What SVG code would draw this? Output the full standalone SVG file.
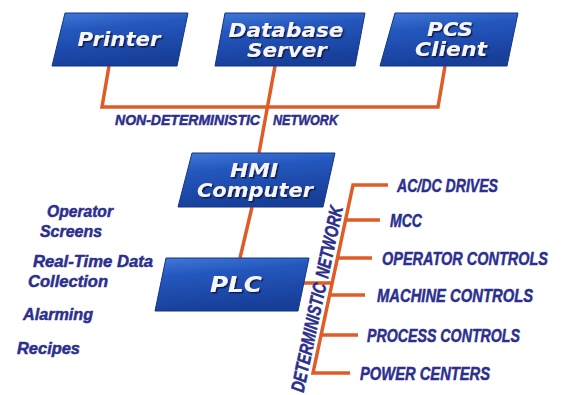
<svg xmlns="http://www.w3.org/2000/svg" width="563" height="395" viewBox="0 0 563 395">
<defs>
<linearGradient id="boxg" x1="0" y1="0" x2="0.25" y2="1">
<stop offset="0" stop-color="#4279d8"/>
<stop offset="0.35" stop-color="#2457bd"/>
<stop offset="1" stop-color="#173f9a"/>
</linearGradient>
<filter id="sh" x="-10%" y="-20%" width="130%" height="150%">
<feDropShadow dx="1.5" dy="1.5" stdDeviation="0.6" flood-color="#0b1440" flood-opacity="0.9"/>
</filter>
<style>
.box{fill:url(#boxg);stroke:#143583;stroke-width:1}
.bt{font-family:"DejaVu Sans",sans-serif;font-weight:bold;font-style:italic;font-size:19px;fill:#f5f5fa;text-anchor:middle;filter:url(#sh)}
.net{fill:none;stroke:#e05c26;stroke-width:3.5;stroke-linejoin:miter;stroke-linecap:butt}
.lbl{font-family:"Liberation Sans",sans-serif;font-weight:bold;font-style:italic;fill:#2b2f8e;stroke:#2b2f8e;stroke-width:0.5}
.r{font-size:19px}
.l{font-size:17px}
.n{font-size:15px}
</style>
</defs>
<rect width="563" height="395" fill="#ffffff"/>
<g id="connectors">
<path class="net" d="M109,66 L102,107 L438,107 L445,66"/>
<path class="net" d="M275,66 L259,153"/>
<path class="net" d="M252,207 L240,258"/>
<path class="net" d="M388,185 H353 L313,373 H350"/>
<path class="net" d="M345.6,220 H380 M337.7,258 H372 M329.9,295 H365 M321.5,335 H358 M298,283 H332.4"/>
</g>
<g id="printer">
<polygon class="box" points="65,13 188,13 177,66 52,66"/>
<text class="bt" x="119" y="46" textLength="83" lengthAdjust="spacingAndGlyphs">Printer</text>
</g>
<g id="database-server">
<polygon class="box" points="225,13 365,13 355,66 215,66"/>
<text class="bt" x="286" y="37" textLength="115" lengthAdjust="spacingAndGlyphs">Database</text>
<text class="bt" x="287" y="57" textLength="80" lengthAdjust="spacingAndGlyphs">Server</text>
</g>
<g id="pcs-client">
<polygon class="box" points="395,13 518,13 507,66 380,66"/>
<text class="bt" x="450" y="36" textLength="46" lengthAdjust="spacingAndGlyphs">PCS</text>
<text class="bt" x="451" y="56" textLength="72" lengthAdjust="spacingAndGlyphs">Client</text>
</g>
<g id="hmi-computer">
<polygon class="box" points="192,153 335,153 323,207 178,207"/>
<text class="bt" x="254" y="177" textLength="48" lengthAdjust="spacingAndGlyphs">HMI</text>
<text class="bt" x="255" y="197" textLength="116" lengthAdjust="spacingAndGlyphs">Computer</text>
</g>
<g id="plc">
<polygon class="box" points="166,258 309,258 298,311 155,311"/>
<text class="bt" x="236" y="292" style="font-size:21px" textLength="52" lengthAdjust="spacingAndGlyphs">PLC</text>
</g>
<g id="non-deterministic-network">
<text class="lbl n"><tspan x="115" y="125" textLength="145" lengthAdjust="spacingAndGlyphs">NON-DETERMINISTIC</tspan><tspan x="273" y="125" textLength="65" lengthAdjust="spacingAndGlyphs">NETWORK</tspan></text>
</g>
<g id="deterministic-network">
<text class="lbl r" transform="translate(303.5,393) rotate(-78) scale(0.76,1)" textLength="146" lengthAdjust="spacingAndGlyphs">DETERMINISTIC</text>
<text class="lbl r" transform="translate(328,279) rotate(-78) scale(0.76,1)" textLength="96" lengthAdjust="spacingAndGlyphs">NETWORK</text>
</g>
<g id="devices">
<text class="lbl r" transform="translate(397,192) scale(0.76,1)" textLength="132.9" lengthAdjust="spacingAndGlyphs">AC/DC DRIVES</text>
<text class="lbl r" transform="translate(390,227) scale(0.76,1)" textLength="42.1" lengthAdjust="spacingAndGlyphs">MCC</text>
<text class="lbl r" transform="translate(382,265) scale(0.76,1)" textLength="218.4" lengthAdjust="spacingAndGlyphs">OPERATOR CONTROLS</text>
<text class="lbl r" transform="translate(377,302) scale(0.76,1)" textLength="205.3" lengthAdjust="spacingAndGlyphs">MACHINE CONTROLS</text>
<text class="lbl r" transform="translate(367,342) scale(0.76,1)" textLength="201.3" lengthAdjust="spacingAndGlyphs">PROCESS CONTROLS</text>
<text class="lbl r" transform="translate(360,380) scale(0.76,1)" textLength="171.1" lengthAdjust="spacingAndGlyphs">POWER CENTERS</text>
</g>
<g id="functions">
<text class="lbl l" x="47" y="217" textLength="66" lengthAdjust="spacingAndGlyphs">Operator</text>
<text class="lbl l" x="40" y="237" textLength="62" lengthAdjust="spacingAndGlyphs">Screens</text>
<text class="lbl l" x="33" y="267" textLength="120" lengthAdjust="spacingAndGlyphs">Real-Time Data</text>
<text class="lbl l" x="28" y="287" textLength="80" lengthAdjust="spacingAndGlyphs">Collection</text>
<text class="lbl l" x="23" y="320" textLength="70" lengthAdjust="spacingAndGlyphs">Alarming</text>
<text class="lbl l" x="17" y="354" textLength="63" lengthAdjust="spacingAndGlyphs">Recipes</text>
</g>
</svg>
